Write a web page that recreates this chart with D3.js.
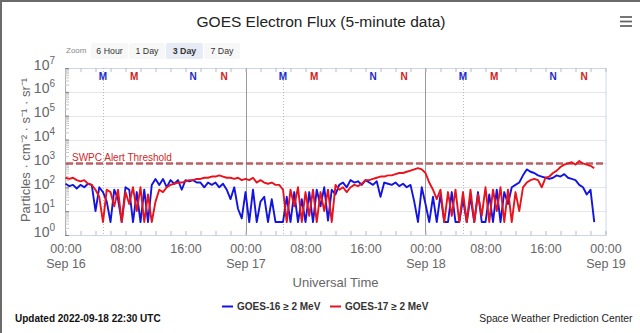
<!DOCTYPE html>
<html>
<head>
<meta charset="utf-8">
<script src="https://cdn.jsdelivr.net/npm/d3@7"></script>
<style>
  html, body { margin: 0; padding: 0; background: #fff; }
  svg { display: block; font-family: "Liberation Sans", Arial, Helvetica, sans-serif; }
</style>
</head>
<body>
<svg id="chart" width="640" height="333"></svg>
<script>
// ---------------- DATA ----------------
const title = "GOES Electron Flux (5-minute data)";
const seriesNames = ["GOES-16 \u2265 2 MeV", "GOES-17 \u2265 2 MeV"];
const seriesColors = ["#1414e0", "#e8141c"];
const startTime = Date.UTC(2022, 8, 16, 0, 0);   // Sep 16 00:00 UTC
const endTime = Date.UTC(2022, 8, 19, 0, 0);     // Sep 19 00:00 UTC
const stepMinutes = 30;                           // sample spacing of the arrays below

// GOES-16 >= 2 MeV (particles / cm2 s sr), every 30 min from Sep 16 00:00
const goes16 = [
  141,112,126,89,126,100,141,126,10,100,63,25,
  3.5,79,32,3.5,100,79,3.5,63,3.5,79,3.5,126,
  224,126,224,100,200,141,200,79,200,178,200,158,
  158,100,158,126,158,100,141,79,32,100,12.6,5,
  63,3.5,79,3.5,25,40,3.5,32,3.5,3.5,3.5,40,
  3.5,63,3.5,32,3.5,63,3.5,79,16,100,4,79,
  50,126,158,100,200,158,178,126,200,158,126,178,
  40,158,141,126,158,112,141,100,126,25,3.5,100,
  20,3.5,40,3.5,50,3.5,3.5,63,3.5,3.5,32,3.5,
  40,3.5,63,3.5,3.5,50,3.5,79,3.5,63,20,100,
  126,158,316,562,447,398,316,282,251,224,251,316,
  282,355,251,224,200,126,100,50,79,3.5
];
// GOES-17 >= 2 MeV
const goes17 = [
  251,224,251,200,178,200,141,126,79,40,3.5,79,
  63,16,79,3.5,63,20,100,10,100,3.5,50,3.5,
  25,79,63,100,126,141,158,158,178,200,200,224,
  224,251,251,282,282,316,282,251,251,224,251,200,
  224,200,251,158,200,158,141,158,126,126,79,3.5,
  79,16,100,3.5,63,6.3,79,3.5,63,10,79,3.5,
  126,79,100,63,100,126,112,141,200,200,224,251,
  282,282,316,316,355,398,398,447,501,562,631,562,
  398,158,79,32,79,3.5,63,6.3,79,3.5,63,3.5,
  79,3.5,50,6.3,100,3.5,79,10,100,3.5,79,3.5,
  63,10,100,158,200,224,200,100,251,282,398,501,
  708,891,1000,1122,891,1259,1000,891,794,631
];
const alertThreshold = 1000;
const alertLabel = "SWPC Alert Threshold";
const yDecades = [0, 1, 2, 3, 4, 5, 6, 7];
const xLabelHours = [0, 8, 16, 24, 32, 40, 48, 56, 64, 72];
// local midnight (M) / noon (N) markers, hours after Sep 16 00:00 UTC
const markers = [
  {h: 5.0, t: "M", s: 0}, {h: 9.15, t: "M", s: 1}, {h: 17.0, t: "N", s: 0}, {h: 21.15, t: "N", s: 1},
  {h: 29.0, t: "M", s: 0}, {h: 33.15, t: "M", s: 1}, {h: 41.0, t: "N", s: 0}, {h: 45.15, t: "N", s: 1},
  {h: 53.0, t: "M", s: 0}, {h: 57.15, t: "M", s: 1}, {h: 65.0, t: "N", s: 0}, {h: 69.15, t: "N", s: 1}
];
const zoomButtons = ["6 Hour", "1 Day", "3 Day", "7 Day"];
const selectedButton = "3 Day";

// ---------------- CHART ----------------
const svg = d3.select("#chart");
const W = 640, H = 333;
const plot = {left: 65, right: 606.5, top: 68, bottom: 235};

const x = d3.scaleUtc().domain([startTime, endTime]).range([65.5, 605.5]);
const y = d3.scaleLog().domain([1, 1e7]).range([plot.bottom, plot.top]);
const HOUR = 3600 * 1000;

// outer screenshot frame (top/left)
svg.append("rect").attr("x", 0).attr("y", 0).attr("width", W).attr("height", 2).attr("fill", "#6b6b6b");
svg.append("rect").attr("x", 0).attr("y", 0).attr("width", 2).attr("height", H).attr("fill", "#6b6b6b");

// title
svg.append("text").attr("x", 321).attr("y", 27).attr("text-anchor", "middle")
  .attr("font-size", 15.5).attr("fill", "#222").text(title);

// hamburger menu
[17, 21.5, 26].forEach(yy => svg.append("line").attr("x1", 620).attr("x2", 632)
  .attr("y1", yy).attr("y2", yy).attr("stroke", "#666").attr("stroke-width", 1.8));

// zoom buttons
svg.append("text").attr("x", 66).attr("y", 53).attr("font-size", 8).attr("fill", "#888").text("Zoom");
const btnX = [91, 129, 166, 204], btnW = [37, 36, 37, 36];
zoomButtons.forEach((b, i) => {
  const sel = b === selectedButton;
  svg.append("rect").attr("x", btnX[i]).attr("y", 43).attr("width", btnW[i]).attr("height", 16)
    .attr("rx", 2).attr("fill", sel ? "#e6ebf5" : "#f7f7f7");
  svg.append("text").attr("x", btnX[i] + btnW[i] / 2).attr("y", 54).attr("text-anchor", "middle")
    .attr("font-size", 8.8).attr("font-weight", sel ? "bold" : "normal").attr("fill", "#333").text(b);
});

// horizontal grid lines at decades
const g = svg.append("g");
yDecades.forEach(d => {
  if (d === 0 || d === 7) return;
  g.append("line").attr("x1", plot.left).attr("x2", plot.right)
    .attr("y1", Math.round(y(Math.pow(10, d))) + 0.5).attr("y2", Math.round(y(Math.pow(10, d))) + 0.5)
    .attr("stroke", "#e6e6e6");
});

// plot border
svg.append("rect").attr("x", plot.left + 0.5).attr("y", plot.top + 0.5)
  .attr("width", plot.right - plot.left - 1).attr("height", plot.bottom - plot.top)
  .attr("fill", "none").attr("stroke", "#ccd6eb");

// dotted lines at GOES-16 local midnight
markers.filter(m => m.s === 0 && m.t === "M").forEach(m => {
  const xx = Math.round(x(startTime + m.h * HOUR)) + 0.5;
  svg.append("line").attr("x1", xx).attr("x2", xx).attr("y1", plot.top).attr("y2", plot.bottom)
    .attr("stroke", "#b8b8b8").attr("stroke-dasharray", "1,2");
});
// solid lines at day boundaries
[24, 48].forEach(h => {
  const xx = Math.round(x(startTime + h * HOUR)) + 0.5;
  svg.append("line").attr("x1", xx).attr("x2", xx).attr("y1", plot.top).attr("y2", plot.bottom)
    .attr("stroke", "#9a9a9a").attr("stroke-width", 1);
});

// x minor ticks (bottom & top, inward)
const tickHours = d3.utcHour.every(2).range(new Date(startTime), new Date(endTime + 1));
svg.append("g").attr("transform", `translate(0,${plot.bottom})`)
  .call(d3.axisBottom(x).tickValues(tickHours).tickSize(-4).tickFormat(""))
  .call(s => { s.select(".domain").attr("stroke", "#ccd6eb"); s.selectAll(".tick line").attr("stroke", "#bbb"); });
svg.append("g").attr("transform", `translate(0,${plot.top})`)
  .call(d3.axisTop(x).tickValues(tickHours).tickSize(-4).tickFormat(""))
  .call(s => { s.select(".domain").remove(); s.selectAll(".tick line").attr("stroke", "#bbb"); });

// x labels
const fmtTime = d3.utcFormat("%H:%M"), fmtDay = d3.utcFormat("%b %d");
const xl = svg.append("g").attr("transform", `translate(0,${plot.bottom})`)
  .call(d3.axisBottom(x).tickValues(xLabelHours.map(h => new Date(startTime + h * HOUR))).tickSize(0).tickFormat(""));
xl.select(".domain").remove();
xl.selectAll(".tick").each(function(d) {
  const t = d3.select(this).append("text").attr("fill", "#666").attr("font-size", 12.5)
    .attr("text-anchor", "middle");
  t.append("tspan").attr("x", 0).attr("y", 17.5).text(fmtTime(d));
  if (d.getUTCHours() === 0) t.append("tspan").attr("x", 0).attr("y", 32.5).text(fmtDay(d));
});
svg.append("text").attr("x", 335.5).attr("y", 286.5).attr("text-anchor", "middle")
  .attr("font-size", 13).attr("fill", "#666").text("Universal Time");

// y axis: minor ticks inward
const minorTicks = y.ticks();
svg.append("g").attr("transform", `translate(${plot.left},0)`)
  .call(d3.axisRight(y).tickValues(minorTicks).tickSize(4).tickFormat(""))
  .call(s => { s.select(".domain").attr("stroke", "#aaa"); s.selectAll(".tick line").attr("stroke", "#c8c8c8"); });
svg.append("g").attr("transform", `translate(${plot.left},0)`)
  .call(d3.axisRight(y).tickValues(yDecades.map(d => Math.pow(10, d))).tickSize(4).tickFormat(""))
  .call(s => { s.select(".domain").remove(); s.selectAll(".tick line").attr("stroke", "#888"); });
// y labels 10^n
yDecades.forEach(d => {
  const yy = y(Math.pow(10, d));
  const t = svg.append("text").attr("x", 55).attr("y", yy + 1.5).attr("text-anchor", "end")
    .attr("fill", "#666").attr("font-size", 14);
  t.append("tspan").text("10");
  t.append("tspan").attr("font-size", 10).attr("dy", -6).text(d);
});
svg.append("text").attr("transform", "translate(30,150) rotate(-90)").attr("text-anchor", "middle")
  .attr("font-size", 13).attr("fill", "#666")
  .text("Particles \u00b7 cm\u207b\u00b2 \u00b7 s\u207b\u00b9 \u00b7 sr\u207b\u00b9");

// threshold
svg.append("line").attr("x1", plot.left + 1).attr("x2", plot.right - 1)
  .attr("y1", y(alertThreshold)).attr("y2", y(alertThreshold))
  .attr("stroke", "#b86064").attr("stroke-width", 2.5).attr("stroke-dasharray", "7,3");
svg.append("text").attr("x", 72).attr("y", 161).attr("font-size", 10).attr("fill", "#d02828").text(alertLabel);

// series
svg.append("clipPath").attr("id", "clip").append("rect")
  .attr("x", plot.left).attr("y", plot.top).attr("width", plot.right - plot.left).attr("height", plot.bottom - plot.top);
const line = d3.line()
  .x((v, i) => x(startTime + i * stepMinutes * 60000))
  .y(v => y(v));
[goes16, goes17].forEach((data, k) => {
  svg.append("path").datum(data).attr("d", line).attr("fill", "none")
    .attr("stroke", seriesColors[k]).attr("stroke-width", 1.9).attr("stroke-linejoin", "round")
    .attr("clip-path", "url(#clip)");
});

// M / N markers
const markerColors = ["#1a2ad0", "#d42020"];
markers.forEach(m => {
  svg.append("text").attr("x", x(startTime + m.h * HOUR)).attr("y", 80).attr("text-anchor", "middle")
    .attr("font-size", 10).attr("font-weight", "bold").attr("fill", markerColors[m.s]).text(m.t);
});

// legend
const legendX = [222, 330];
seriesNames.forEach((n, k) => {
  svg.append("line").attr("x1", legendX[k]).attr("x2", legendX[k] + 11).attr("y1", 306.5).attr("y2", 306.5)
    .attr("stroke", seriesColors[k]).attr("stroke-width", 2);
  svg.append("text").attr("x", legendX[k] + 15).attr("y", 310).attr("font-size", 10).attr("font-weight", "bold")
    .attr("fill", "#333").text(n);
});

// footer
svg.append("text").attr("x", 15).attr("y", 322).attr("font-size", 10).attr("font-weight", "bold")
  .attr("fill", "#111").text("Updated 2022-09-18 22:30 UTC");
svg.append("text").attr("x", 632.5).attr("y", 322).attr("text-anchor", "end").attr("font-size", 10.3)
  .attr("fill", "#222").text("Space Weather Prediction Center");
</script>
</body>
</html>
